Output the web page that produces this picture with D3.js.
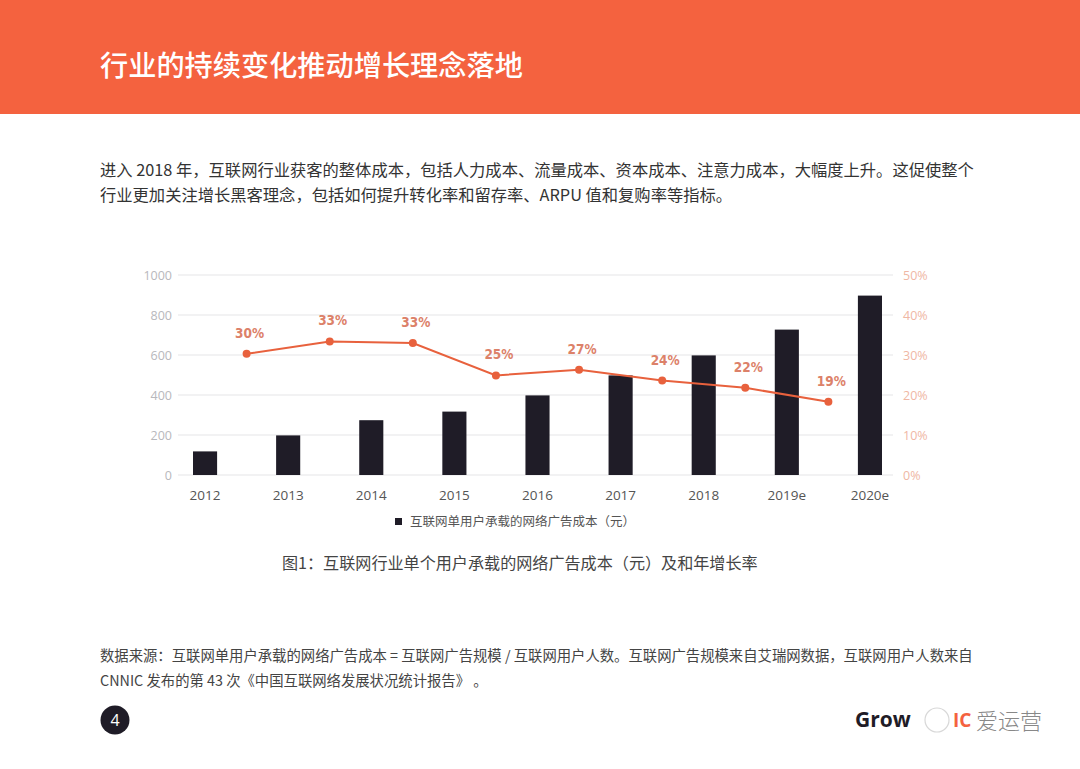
<!DOCTYPE html>
<html><head><meta charset="utf-8">
<script src="https://cdn.jsdelivr.net/npm/d3@7"></script>
<style>
html,body{margin:0;padding:0;background:#fff;}
svg{display:block;}
</style></head>
<body>
<svg id="c" width="1080" height="769"></svg>
<script>
const categories = ["2012","2013","2014","2015","2016","2017","2018","2019e","2020e"];
const costValues = [118, 198, 274, 317, 398, 498, 598, 727, 897];
const growthValues = [30.3, 33.4, 33.0, 24.9, 26.3, 23.6, 21.8, 18.3];
const growthLabels = ["30%","33%","33%","25%","27%","24%","22%","19%"];
const leftTicks = [0,200,400,600,800,1000];
const rightTicks = [0,10,20,30,40,50];
const titleText = "行业的持续变化推动增长理念落地";
const paraLines = ["进入 2018 年，互联网行业获客的整体成本，包括人力成本、流量成本、资本成本、注意力成本，大幅度上升。这促使整个",
                   "行业更加关注增长黑客理念，包括如何提升转化率和留存率、ARPU 值和复购率等指标。"];
const legendText = "互联网单用户承载的网络广告成本（元）";
const captionText = "图1：互联网行业单个用户承载的网络广告成本（元）及和年增长率";
const noteLines = ["数据来源：互联网单用户承载的网络广告成本 =  互联网广告规模 / 互联网用户人数。互联网广告规模来自艾瑞网数据，互联网用户人数来自",
                   "CNNIC 发布的第 43 次《中国互联网络发展状况统计报告》 。"];

const svg = d3.select("#c");
const cjk = "'Noto Sans CJK SC','Noto Sans',sans-serif";

// header
svg.append("rect").attr("x",0).attr("y",0).attr("width",1080).attr("height",114).attr("fill","#f4623f");
svg.append("text").attr("x",100).attr("y",76).attr("fill","#fff").attr("font-family",cjk)
  .attr("font-size",28.2).attr("font-weight",500).text(titleText);

// paragraph
paraLines.forEach((t,i)=>{
  svg.append("text").attr("x",100).attr("y",176+i*25).attr("fill","#333").attr("font-family",cjk)
    .attr("font-size",16.3).text(t);
});

// chart scales
const x = d3.scaleBand().domain(categories).range([163.5, 911.5]).paddingInner(0.71).paddingOuter(0.355);
const yL = d3.scaleLinear().domain([0,1000]).range([475,275]);
const yR = d3.scaleLinear().domain([0,50]).range([475,275]);

// gridlines
svg.append("g").selectAll("line").data(leftTicks).join("line")
  .attr("x1",178).attr("x2",893).attr("y1",d=>yL(d)).attr("y2",d=>yL(d))
  .attr("stroke","#e5e5e8").attr("stroke-width",1.2);

// left axis
const axL = svg.append("g").attr("transform","translate(178,0)")
  .call(d3.axisLeft(yL).tickValues(leftTicks).tickSize(0).tickPadding(6).tickFormat(d3.format("d")));
axL.select(".domain").remove();
axL.selectAll("text").attr("fill","#b8b8bc").attr("font-size",12.5).attr("font-family","'Open Sans',sans-serif");

// right axis
const axR = svg.append("g").attr("transform","translate(897,0)")
  .call(d3.axisRight(yR).tickValues(rightTicks).tickSize(0).tickPadding(6).tickFormat(d=>d+"%"));
axR.select(".domain").remove();
axR.selectAll("text").attr("fill","#efb7a4").attr("font-size",12.5).attr("font-family","'Open Sans',sans-serif");

// x axis labels
const axX = svg.append("g").attr("transform","translate(0,475)")
  .call(d3.axisBottom(x).tickSize(0).tickPadding(15));
axX.select(".domain").remove();
axX.selectAll("text").attr("fill","#555").attr("font-size",13.5).attr("font-family","'Open Sans',sans-serif");

// bars
svg.append("g").selectAll("rect").data(costValues).join("rect")
  .attr("x",(d,i)=>x(categories[i])).attr("width",x.bandwidth())
  .attr("y",d=>yL(d)).attr("height",d=>yL(0)-yL(d)).attr("fill","#1f1c27");

// growth line at boundaries between categories
const gx = i => x(categories[i]) + x.bandwidth()/2 + x.step()/2;
const line = d3.line().x((d,i)=>gx(i)).y(d=>yR(d));
svg.append("path").datum(growthValues).attr("d",line).attr("fill","none")
  .attr("stroke","#e8613d").attr("stroke-width",2);
svg.append("g").selectAll("circle").data(growthValues).join("circle")
  .attr("cx",(d,i)=>gx(i)).attr("cy",d=>yR(d)).attr("r",4).attr("fill","#e8613d");
svg.append("g").selectAll("text").data(growthValues).join("text")
  .attr("x",(d,i)=>gx(i)+3).attr("y",d=>yR(d)-16)
  .attr("text-anchor","middle").attr("fill","#dc8169")
  .attr("font-family","'DejaVu Sans Condensed','DejaVu Sans',sans-serif").attr("font-weight","bold")
  .attr("font-size",13.5).text((d,i)=>growthLabels[i]);

// legend
svg.append("rect").attr("x",395).attr("y",518).attr("width",7).attr("height",7).attr("fill","#1f1c27");
svg.append("text").attr("x",410).attr("y",525.5).attr("fill","#555").attr("font-family",cjk)
  .attr("font-size",12.5).text(legendText);

// caption
svg.append("text").attr("x",282).attr("y",569).attr("fill","#444").attr("font-family",cjk)
  .attr("font-size",16.1).text(captionText);

// notes
noteLines.forEach((t,i)=>{
  svg.append("text").attr("x",100).attr("y",661+i*25).attr("fill","#444").attr("font-family",cjk)
    .attr("font-size",14.35).text(t);
});

// page number
svg.append("circle").attr("cx",115).attr("cy",720).attr("r",14.5).attr("fill","#1f1c27");
svg.append("text").attr("x",115).attr("y",726).attr("text-anchor","middle").attr("fill","#fff")
  .attr("font-family","'Open Sans',sans-serif").attr("font-size",16).text("4");

// logo + watermark
svg.append("text").attr("x",855).attr("y",727).attr("fill","#1f1c27")
  .attr("font-family","'Open Sans',sans-serif").attr("font-weight","bold").attr("font-size",21).text("Grow");
svg.append("circle").attr("cx",937).attr("cy",720).attr("r",12).attr("fill","none").attr("stroke","#d8d8d8").attr("stroke-width",1.2);
svg.append("text").attr("x",953).attr("y",727).attr("fill","#f4623f")
  .attr("font-family","'Open Sans',sans-serif").attr("font-weight","bold").attr("font-size",19).text("IC");
svg.append("text").attr("x",976).attr("y",729).attr("fill","#888")
  .attr("font-family",cjk).attr("font-weight",300).attr("font-size",22).text("爱运营");
</script>
</body></html>
